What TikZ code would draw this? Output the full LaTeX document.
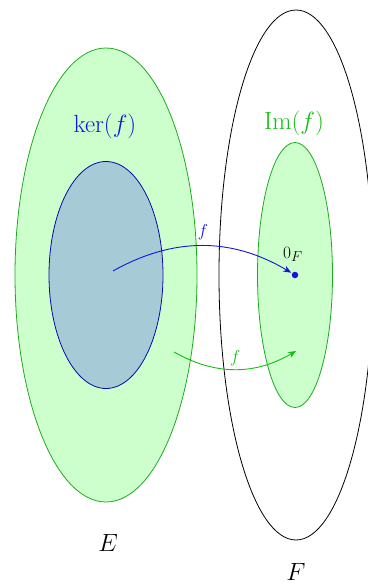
\documentclass[tikz,border=0pt]{standalone}
\usetikzlibrary{shapes.geometric,arrows.meta}
\definecolor{lgreen}{RGB}{204,255,204}
\definecolor{dgreen}{RGB}{30,170,30}
\definecolor{tgreen}{RGB}{20,190,20}
\definecolor{kfill}{RGB}{166,202,214}
\definecolor{kblue}{RGB}{10,10,170}
\definecolor{tblue}{RGB}{20,20,225}
\begin{document}
\begin{tikzpicture}[x=1pt,y=-1pt,
  setbox/.style={ellipse,inner sep=0pt,line width=0.8pt},
  biglabel/.style={anchor=base,inner sep=0pt,font=\fontsize{30.5}{34}\selectfont},
  smalllabel/.style={inner sep=0pt,font=\fontsize{19}{22}\selectfont},
  maparrow/.style={line width=0.9pt,-{Stealth[length=8pt,width=6.5pt]}}]
\useasboundingbox (0,0) rectangle (367,586);
\node[setbox,draw=dgreen,fill=lgreen,minimum width=182pt,minimum height=454pt] (E) at (106,275) {};
\node[setbox,draw=kblue,fill=kfill,minimum width=114pt,minimum height=227pt] (K) at (106,275) {};
\node[setbox,draw=black,minimum width=154pt,minimum height=530pt] (F) at (296,275) {};
\node[setbox,draw=dgreen,fill=lgreen,minimum width=75pt,minimum height=265pt] (I) at (295,275) {};
\node[biglabel,text=tblue] (kl) at (105,132) {$\ker(f)$};
\node[biglabel,text=tgreen] (il) at (294,129) {$\mathrm{Im}(f)$};
\node[biglabel] (el) at (108,551) {$E$};
\node[biglabel] (fl) at (296,580) {$F$};
\node[circle,fill=tblue,inner sep=0pt,minimum size=6.5pt] (z) at (295,275) {};
\node[smalllabel,anchor=base] (zl) at (293,258) {$0_F$};
\coordinate (a1) at (113,271);
\draw[maparrow,draw=tblue,shorten >=1pt] (a1) to[bend left=30] node[smalllabel,text=tblue,pos=0.5,above=6pt,xshift=0pt] (f1) {$f$} (z);
\coordinate (b1) at (174,352);
\coordinate (b2) at (296,351);
\draw[maparrow,draw=tgreen] (b1) to[bend right=30] node[smalllabel,text=tgreen,pos=0.5,above=3pt,xshift=0pt] (f2) {$f$} (b2);
\end{tikzpicture}
\end{document}
